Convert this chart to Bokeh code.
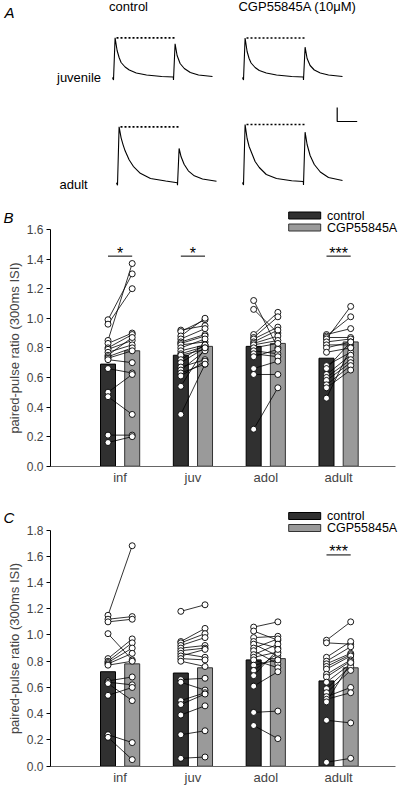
from bokeh.plotting import figure
from bokeh.layouts import column
from bokeh.models import Range1d, FixedTicker, PrintfTickFormatter
from bokeh.core.properties import value
from bokeh.embed import file_html
from bokeh.resources import INLINE

FONT = "Liberation Sans"

# ---------------- Panel A: example traces (time in ms, amplitude in px-units) ----
trace_t_ms = [-5, 0, 8, 18, 28, 38, 58, 79, 114, 165, 241, 299, 300, 308, 318, 333, 354, 384, 425, 495]
trace_juv_control = [0, -2.5, 39.7, 27, 20, 15, 10.5, 7.5, 4.5, 2.5, 1, 0.5, -2.5, 33.7, 22, 14, 9, 5, 2.5, 1]
trace_juv_cgp = [0, -2.5, 39.5, 26, 19, 14.5, 10, 7, 4.5, 2.5, 1, 0.5, -2.5, 30.3, 19, 12, 7.5, 4.5, 2.5, 1]
trace_adult_control = [0, -2.5, 56, 45, 38, 32, 23, 16.5, 9.5, 4.3, 1.8, 0, -2.5, 34.3, 26, 18.5, 12, 7, 3.8, 1.5]
trace_adult_cgp = [0, -2.5, 58, 44, 36, 31, 21, 15, 8, 4, 1.8, 1, -2.5, 50.3, 38, 27, 18, 10.5, 5, 2]
row_labels = ["juvenile", "adult"]
col_labels = ["control", "CGP55845A (10\u03bcM)"]
scale_bar_ms = 100
scale_bar_amp = 14

# ---------------- Panels B and C ----------------
ages = ["inf", "juv", "adol", "adult"]
conditions = ["control", "CGP55845A"]

b_y_ticks = [0.0, 0.2, 0.4, 0.6, 0.8, 1.0, 1.2, 1.4, 1.6]
b_mean_control = [0.69, 0.75, 0.81, 0.73]
b_mean_cgp = [0.78, 0.81, 0.83, 0.84]
b_inf_control = [0.99, 0.96, 0.85, 0.83, 0.80, 0.79, 0.77, 0.75, 0.74, 0.73, 0.72, 0.66, 0.50, 0.47, 0.21, 0.16]
b_inf_cgp = [1.30, 1.20, 1.37, 0.90, 0.89, 0.85, 0.82, 0.87, 0.80, 0.78, 0.70, 0.63, 0.62, 0.35, 0.21, 0.20]
b_juv_control = [0.92, 0.91, 0.88, 0.86, 0.84, 0.83, 0.82, 0.80, 0.78, 0.76, 0.75, 0.72, 0.70, 0.67, 0.65, 0.63, 0.61, 0.54, 0.35]
b_juv_cgp = [0.95, 0.99, 1.00, 0.93, 0.89, 0.88, 0.84, 0.86, 0.82, 0.81, 0.79, 0.82, 0.80, 0.72, 0.78, 0.69, 0.71, 0.80, 0.69]
b_adol_control = [1.12, 1.06, 0.89, 0.87, 0.86, 0.84, 0.83, 0.82, 0.80, 0.78, 0.76, 0.74, 0.66, 0.62, 0.25]
b_adol_cgp = [0.80, 0.90, 1.04, 1.01, 0.94, 0.92, 0.88, 0.85, 0.83, 0.76, 0.74, 0.79, 0.71, 0.62, 0.53]
b_adult_control = [0.89, 0.88, 0.87, 0.86, 0.84, 0.82, 0.80, 0.77, 0.68, 0.66, 0.62, 0.60, 0.58, 0.55, 0.53, 0.46]
b_adult_cgp = [0.93, 1.01, 0.87, 1.08, 0.86, 0.82, 0.84, 0.80, 0.77, 0.84, 0.75, 0.72, 0.70, 0.68, 0.65, 0.80]
b_sig_ages = ["inf", "juv", "adult"]
b_sig_marks = ["*", "*", "***"]
b_sig_level = 1.42

c_y_ticks = [0.0, 0.2, 0.4, 0.6, 0.8, 1.0, 1.2, 1.4, 1.6, 1.8]
c_mean_control = [0.72, 0.71, 0.81, 0.65]
c_mean_cgp = [0.78, 0.75, 0.82, 0.75]
c_inf_control = [1.15, 1.12, 1.10, 1.01, 0.82, 0.80, 0.79, 0.78, 0.77, 0.65, 0.64, 0.63, 0.54, 0.24, 0.22]
c_inf_cgp = [1.68, 1.14, 1.12, 0.81, 0.97, 0.94, 0.90, 0.86, 0.80, 0.68, 0.62, 0.50, 0.60, 0.18, 0.05]
c_juv_control = [1.18, 0.95, 0.94, 0.92, 0.90, 0.88, 0.86, 0.84, 0.82, 0.80, 0.66, 0.64, 0.50, 0.47, 0.39, 0.24, 0.06]
c_juv_cgp = [1.23, 1.05, 1.01, 0.98, 0.92, 0.90, 0.83, 0.89, 0.81, 0.76, 0.67, 0.58, 0.56, 0.55, 0.46, 0.27, 0.07]
c_adol_control = [1.06, 1.03, 0.98, 0.95, 0.93, 0.90, 0.88, 0.85, 0.83, 0.81, 0.77, 0.73, 0.69, 0.61, 0.41, 0.31]
c_adol_cgp = [1.10, 0.96, 0.99, 0.90, 0.84, 0.97, 0.78, 0.93, 0.87, 0.75, 0.81, 0.86, 0.89, 0.72, 0.42, 0.21]
c_adult_control = [0.96, 0.94, 0.83, 0.80, 0.78, 0.76, 0.74, 0.70, 0.68, 0.64, 0.59, 0.56, 0.53, 0.51, 0.49, 0.35, 0.03]
c_adult_cgp = [1.10, 0.93, 0.95, 0.91, 0.86, 0.85, 0.84, 0.81, 0.80, 0.78, 0.76, 0.73, 0.60, 0.56, 0.79, 0.33, 0.06]
c_sig_ages = ["adult"]
c_sig_marks = ["***"]
c_sig_level = 1.61

CTRL_FILL = "#303030"
CGP_FILL = "#9a9a9a"
W = 400

# ---------------- Panel A figure ----------------
pa = figure(width=W, height=200, x_range=Range1d(0, W), y_range=Range1d(200, 0),
            output_backend="svg", toolbar_location=None,
            x_axis_location=None, y_axis_location=None, min_border=0,
            outline_line_color=None)
pa.grid.visible = False
PX_PER_MS = 0.2
placements = [(trace_juv_control, 113.0, 77.0), (trace_juv_cgp, 243.0, 77.0),
              (trace_adult_control, 117.0, 182.3), (trace_adult_cgp, 243.0, 182.0)]
for amps, x0, base in placements:
    xs = [x0 + t * PX_PER_MS for t in trace_t_ms]
    ys = [base - a for a in amps]
    pa.line(xs, ys, line_color="black", line_width=1.1)
    pk = max(amps)
    pa.line([x0 + 15 * PX_PER_MS, x0 + 310 * PX_PER_MS], [base - pk, base - pk],
            line_color="black", line_width=1.7, line_dash="2 2")
sbx, sby = 336.7, 121.0
pa.line([sbx, sbx, sbx + scale_bar_ms * PX_PER_MS], [sby - scale_bar_amp, sby, sby],
        line_color="black", line_width=1.2)
pa.text(x=[128, 297], y=[5.5, 5.5], text=col_labels, text_align="center",
        text_baseline="middle", text_font=value(FONT), text_font_size="13px",
        text_color="black")
pa.text(x=[56.5, 59], y=[77.2, 183.5], text=row_labels, text_align="left",
        text_baseline="middle", text_font=value(FONT), text_font_size="13px",
        text_color="black")
pa.text(x=[4], y=[11.5], text=["A"], text_align="left", text_baseline="middle",
        text_font=value(FONT), text_font_size="15px", text_font_style="italic",
        text_color="black")


# ---------------- Bar panels ----------------
GROUP1_PX = 119.6      # x of first group centre, px
GROUP_STEP = 72.83     # px between groups
AXIS_PX = 50.0         # y axis position, px
XAXIS_END_PX = 395.0


def bar_panel(height, zero_px, top_px, ymax, yticks, mean_c, mean_g, pts_c, pts_g,
              sig_ages, sig_marks, sig_level, letter):
    # zero_px / top_px: figure-px rows of y=0 and y=ymax
    ppu = (zero_px - top_px) / ymax

    def dx(px):
        return 1 + (px - GROUP1_PX) / GROUP_STEP

    def dy(py):
        return (zero_px - py) / ppu

    p = figure(width=W, height=height, x_range=Range1d(dx(0), dx(W)),
               y_range=Range1d(dy(height), dy(0)), output_backend="svg",
               toolbar_location=None, min_border=0, outline_line_color=None)
    p.grid.visible = False
    off = 12.1 / GROUP_STEP
    bw = 15.0 / GROUP_STEP
    idx = list(range(1, len(ages) + 1))
    xc = [i - off for i in idx]
    xg = [i + off for i in idx]
    p.vbar(x=xc, top=mean_c, width=bw, bottom=0, fill_color=CTRL_FILL,
           line_color="black", line_width=1)
    p.vbar(x=xg, top=mean_g, width=bw, bottom=0, fill_color=CGP_FILL,
           line_color="#333333", line_width=1)
    lx, ly, sx, sy = [], [], [], []
    for k in range(len(ages)):
        for a, b in zip(pts_c[k], pts_g[k]):
            lx.append([xc[k], xg[k]])
            ly.append([a, b])
            sx += [xc[k], xg[k]]
            sy += [a, b]
    p.multi_line(xs=lx, ys=ly, line_color="black", line_width=0.8)
    p.scatter(x=sx, y=sy, size=6, marker="circle",
              fill_color="white", line_color="black", line_width=0.9)
    # significance bars and stars
    sx0 = [xc[ages.index(a)] for a in sig_ages]
    sx1 = [xg[ages.index(a)] for a in sig_ages]
    lv = [sig_level] * len(sx0)
    p.segment(x0=sx0, x1=sx1, y0=lv, y1=lv, line_color="black", line_width=1)
    p.text(x=[ages.index(a) + 1 for a in sig_ages], y=[sig_level + 3.0 / ppu] * len(sx0),
           text=sig_marks, text_align="center", text_baseline="middle",
           text_font=value(FONT), text_font_size="16px", text_color="black")
    # legend (drawn inside the frame, above the axis top)
    rows_px = [top_px - 14, top_px - 2]
    p.rect(x=[dx(304.2)] * 2, y=[dy(r) for r in rows_px], width=32, height=7,
           width_units="screen", height_units="screen",
           fill_color=[CTRL_FILL, CGP_FILL], line_color=["black", "#333333"],
           line_width=1)
    p.text(x=[dx(326.5)] * 2, y=[dy(r) for r in rows_px], text=conditions,
           text_align="left", text_baseline="middle", text_font=value(FONT),
           text_font_size="12.5px", text_color="black")
    # panel letter
    p.text(x=[dx(3)], y=[dy(top_px - 12.3)], text=[letter], text_align="left",
           text_baseline="middle", text_font=value(FONT), text_font_size="15px",
           text_font_style="italic", text_color="black")
    # axes (fixed inside the frame)
    p.yaxis.fixed_location = dx(AXIS_PX)
    p.xaxis.fixed_location = 0
    p.yaxis.ticker = FixedTicker(ticks=yticks)
    p.yaxis.formatter = PrintfTickFormatter(format="%.1f")
    p.yaxis.bounds = (0, ymax)
    p.yaxis.major_tick_out = 4
    p.yaxis.major_tick_in = 0
    p.yaxis.minor_tick_line_color = None
    p.yaxis.major_label_standoff = 3
    p.yaxis.axis_label = "paired-pulse ratio (300ms ISI)"
    p.yaxis.axis_label_standoff = 2
    p.yaxis.axis_label_text_font = FONT
    p.yaxis.axis_label_text_font_size = "13px"
    p.yaxis.axis_label_text_font_style = "normal"
    p.yaxis.major_label_text_font = FONT
    p.yaxis.major_label_text_font_size = "12px"
    p.yaxis.axis_line_color = "black"
    p.xaxis.bounds = (dx(AXIS_PX), dx(XAXIS_END_PX))
    p.xaxis.ticker = FixedTicker(ticks=idx)
    p.xaxis.major_label_overrides = {i: a for i, a in zip(idx, ages)}
    p.xaxis.major_tick_out = 0
    p.xaxis.major_tick_in = 0
    p.xaxis.minor_tick_line_color = None
    p.xaxis.major_label_standoff = 4
    p.xaxis.major_label_text_font = FONT
    p.xaxis.major_label_text_font_size = "13px"
    p.xaxis.axis_line_color = "#666666"
    p.xaxis.axis_line_width = 1.2
    return p


# panel B: page rows 200..490 ; y=0 at page 465.7, 1.6 at page 229
pb = bar_panel(290, 265.7, 29.0, 1.6, b_y_ticks, b_mean_control, b_mean_cgp,
               [b_inf_control, b_juv_control, b_adol_control, b_adult_control],
               [b_inf_cgp, b_juv_cgp, b_adol_cgp, b_adult_cgp],
               b_sig_ages, b_sig_marks, b_sig_level, "B")
# panel C: page rows 490..787 ; y=0 at page 765.7, 1.8 at page 529.5
pc = bar_panel(297, 275.7, 39.5, 1.8, c_y_ticks, c_mean_control, c_mean_cgp,
               [c_inf_control, c_juv_control, c_adol_control, c_adult_control],
               [c_inf_cgp, c_juv_cgp, c_adol_cgp, c_adult_cgp],
               c_sig_ages, c_sig_marks, c_sig_level, "C")

layout = column(pa, pb, pc, spacing=0)
open("out.html", "w").write(file_html(layout, INLINE))
